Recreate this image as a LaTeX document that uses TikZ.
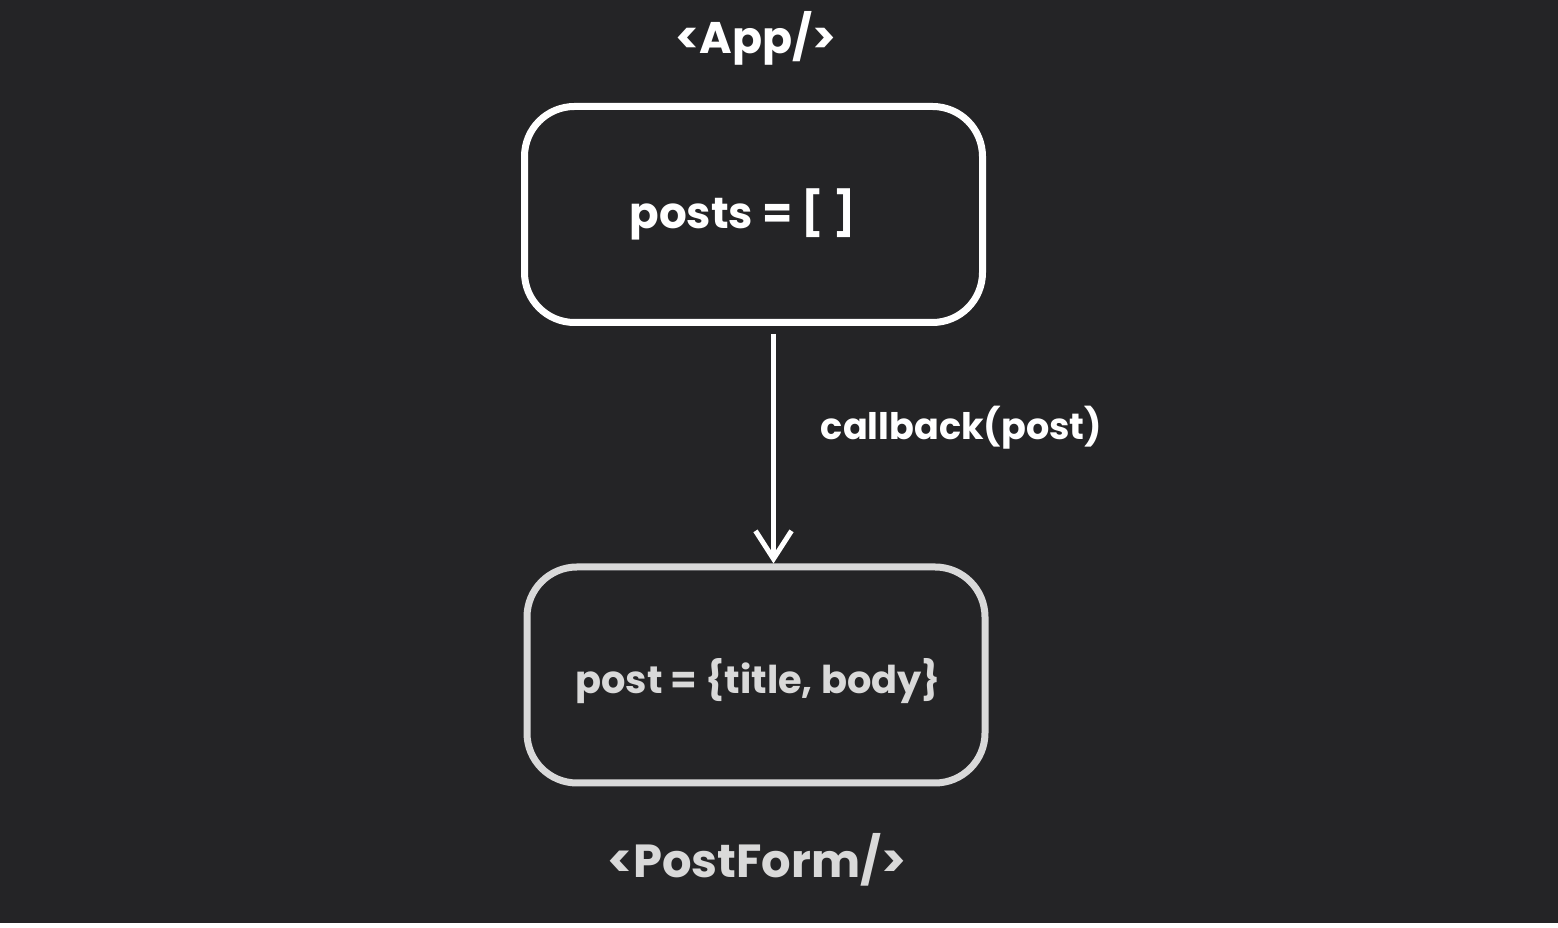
\documentclass[tikz,border=0pt]{standalone}
\usepackage{fontspec}
\setmainfont{Poppins}
\usepackage{xcolor}
\usetikzlibrary{calc, positioning, arrows.meta}
\definecolor{bgdark}{HTML}{242426}
\definecolor{softwhite}{HTML}{D9D9D9}

\tikzset{
	box/.style={draw, rounded corners=0.5cm, line width=0.07cm, minimum width=4.58cm, minimum height=2.16cm},
	boxtext/.style={font=\fontsize{#1}{14}\selectfont\bfseries},
	tag/.style={font=\fontsize{#1}{15}\selectfont\bfseries},
	flow/.style={line width=0.055cm, -{Straight Barb[length=0.28cm, width=0.36cm, line width=0.05cm]}}
}

\begin{document}
\begin{tikzpicture}
	\fill [bgdark] (0,0) rectangle (15.58,-9.23);
	\fill [white] (0,-9.23) rectangle (15.58,-9.28);
	\useasboundingbox (0,0) rectangle (15.58,-9.28);
	
	\node [box, draw=white] (app) at (7.535,-2.145) {};
	\node [box, draw=softwhite] (form) at (7.56,-6.75) {};
	\node [boxtext=12.4, text=white] (posts) at ([xshift=-0.11cm]app.center) {posts = [ ]};
	\node [boxtext=10.9, text=softwhite] (post) at ([xshift=0.02cm, yshift=-0.06cm]form.center) {post = \{title, body\}};
	
	\node [tag=12.6, text=white] (apptag) at (7.56,-0.38) {<App/>};
	\node [tag=13.2, text=softwhite] (formtag) at (7.57,-8.6) {<PostForm/>};
	
	\coordinate (start) at ([xshift=0.2cm, yshift=-0.08cm]app.south);
	\draw [flow, white] (start) -- (start |- form.north) node [pos=0.41, right=0.33cm, tag=10.4, text=white] (cb) {callback(post)};
\end{tikzpicture}
\end{document}
